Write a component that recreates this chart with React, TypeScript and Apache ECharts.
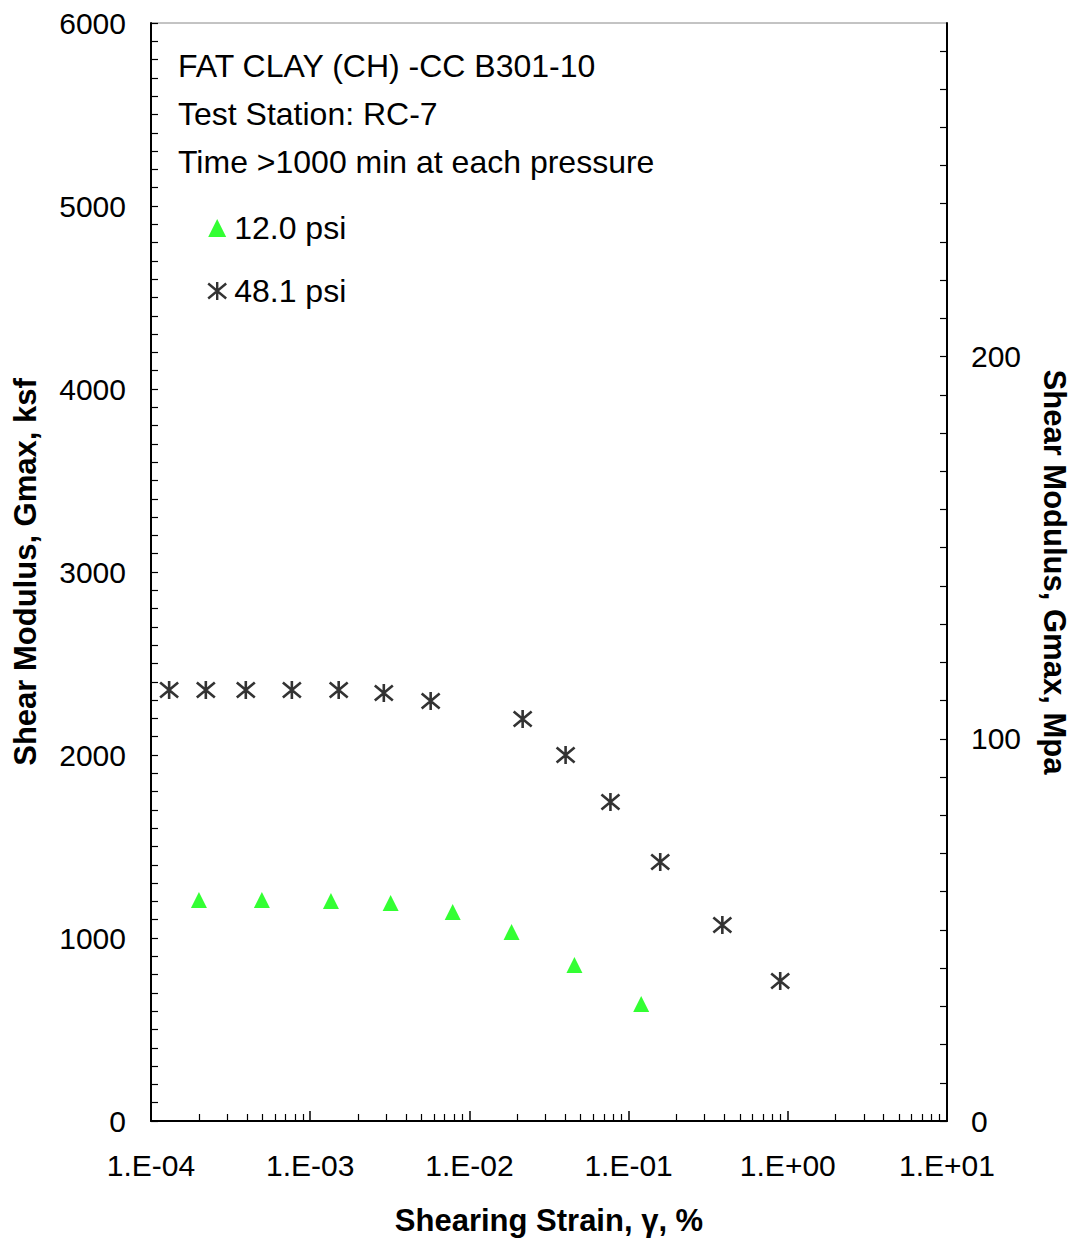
import React, { useEffect, useRef } from "react";
import * as echarts from "echarts";

// Strain (%) and Gmax (ksf)
const strain12 = [2.0e-4, 4.97e-4, 1.35e-3, 3.2e-3, 7.85e-3, 1.84e-2, 4.57e-2, 0.12];
const gmax12 = [1207, 1207, 1202, 1191, 1142, 1033, 852, 639];

const strain48 = [1.3e-4, 2.21e-4, 3.94e-4, 7.67e-4, 1.51e-3, 2.9e-3, 5.71e-3, 2.16e-2, 4.02e-2, 7.69e-2, 0.158, 0.388, 0.896];
const gmax48 = [2355, 2355, 2355, 2355, 2355, 2339, 2295, 2197, 2000, 1743, 1415, 1071, 765];

const seriesNames = ["12.0 psi", "48.1 psi"];
const annotations = ["FAT CLAY (CH) -CC B301-10", "Test Station: RC-7", "Time >1000 min at each pressure"];

const KSF_TO_MPA = 0.04788;
const yMaxKsf = 6000;
const xMin = 1e-4;
const xMax = 10;

const FONT = "'Liberation Sans', Arial, Helvetica, sans-serif";
const STAR = "path://M0 -9L0 9M-9 -7.5L9 7.5M-9 7.5L9 -7.5";

const minorX: number[] = [];
for (let e = -4; e < 1; e++) {
  for (let k = 2; k <= 9; k++) minorX.push(k * Math.pow(10, e));
}

function fmtExp(v: number) {
  const e = Math.round(Math.log10(v));
  const a = Math.abs(e);
  return "1.E" + (e >= 0 ? "+" : "-") + (a < 10 ? "0" + a : String(a));
}

export default function App() {
  const ref = useRef<HTMLDivElement>(null);
  useEffect(() => {
    if (!ref.current) return;
    const chart = echarts.init(ref.current, undefined, { renderer: "svg" });
    const d12 = strain12.map((x, i) => [x, gmax12[i]]);
    const d48 = strain48.map((x, i) => [x, gmax48[i]]);
    chart.setOption({
      animation: false,
      backgroundColor: "#fff",
      textStyle: { fontFamily: FONT },
      grid: {
        left: 151,
        right: 130,
        top: 23,
        bottom: 122,
        show: true,
        borderColor: "#888",
        borderWidth: 1,
        backgroundColor: "transparent",
      },
      legend: {
        orient: "vertical",
        left: 207,
        top: 212,
        padding: 0,
        itemGap: 31,
        itemWidth: 18,
        itemHeight: 18,
        textStyle: { fontSize: 32, color: "#000", fontFamily: FONT, padding: [0, 0, 0, 3] },
        data: [
          { name: seriesNames[0], icon: "triangle", itemStyle: { color: "#00ff00" } },
          { name: seriesNames[1], icon: STAR, itemStyle: { color: "transparent", borderColor: "#000", borderWidth: 2.4 } },
        ],
      },
      xAxis: [
        {
          type: "log",
          logBase: 10,
          min: xMin,
          max: xMax,
          name: "Shearing Strain, \u03b3, %",
          nameLocation: "middle",
          nameGap: 84,
          nameTextStyle: { fontSize: 31, fontWeight: "bold", color: "#000", fontFamily: FONT, verticalAlign: "top" },
          axisLine: { show: true, lineStyle: { color: "#000", width: 2 } },
          axisTick: { show: true, inside: true, length: 10, lineStyle: { color: "#000", width: 1.5 } },
          axisLabel: { fontSize: 30, color: "#000", margin: 29, formatter: (v: number) => fmtExp(v) },
          splitLine: { show: false },
          minorTick: { show: false },
        },
        {
          type: "log",
          logBase: 10,
          min: xMin,
          max: xMax,
          position: "bottom",
          axisLine: { show: false },
          axisTick: { show: true, inside: true, length: 7, customValues: minorX, lineStyle: { color: "#000", width: 1.2 } },
          axisLabel: { show: false },
          splitLine: { show: false },
        },
      ],
      yAxis: [
        {
          type: "value",
          min: 0,
          max: yMaxKsf,
          interval: 100,
          position: "left",
          name: "Shear Modulus, Gmax, ksf",
          nameLocation: "middle",
          nameGap: 110,
          nameTextStyle: { fontSize: 31, fontWeight: "bold", color: "#000", fontFamily: FONT },
          axisLine: { show: true, lineStyle: { color: "#000", width: 2 } },
          axisTick: { show: true, inside: true, length: 7, lineStyle: { color: "#000", width: 1.2 } },
          axisLabel: {
            fontSize: 30,
            color: "#000",
            margin: 25,
            formatter: (v: number) => (Math.round(v) % 1000 === 0 ? String(Math.round(v)) : ""),
          },
          splitLine: { show: false },
        },
        {
          type: "value",
          min: 0,
          max: yMaxKsf * KSF_TO_MPA,
          interval: 10,
          position: "right",
          name: "Shear Modulus, Gmax, Mpa",
          nameLocation: "middle",
          nameRotate: -90,
          nameGap: 92,
          nameTextStyle: { fontSize: 31, fontWeight: "bold", color: "#000", fontFamily: FONT },
          axisLine: { show: true, lineStyle: { color: "#000", width: 2 } },
          axisTick: { show: true, inside: true, length: 7, lineStyle: { color: "#000", width: 1.2 } },
          axisLabel: {
            fontSize: 30,
            color: "#000",
            margin: 24,
            showMaxLabel: false,
            formatter: (v: number) => (Math.abs(v - Math.round(v / 100) * 100) < 1e-6 ? String(Math.round(v)) : ""),
          },
          splitLine: { show: false },
        },
      ],
      graphic: annotations.map((t, i) => ({
        type: "text",
        x: 178,
        y: 66 + i * 48,
        style: { text: t, fontSize: 32, fill: "#000", fontFamily: FONT, verticalAlign: "middle" },
        z: 10,
      })),
      series: [
        {
          name: seriesNames[0],
          type: "scatter",
          xAxisIndex: 0,
          yAxisIndex: 0,
          symbol: "triangle",
          symbolSize: 16,
          itemStyle: { color: "#00ff00" },
          data: d12,
        },
        {
          name: seriesNames[1],
          type: "scatter",
          xAxisIndex: 0,
          yAxisIndex: 0,
          symbol: STAR,
          symbolSize: [18, 18],
          itemStyle: { color: "transparent", borderColor: "#000", borderWidth: 2.6 },
          data: d48,
        },
      ],
    });
    return () => chart.dispose();
  }, []);
  return <div ref={ref} style={{ position: "absolute", left: 0, top: 0, width: 1078, height: 1243 }} />;
}
